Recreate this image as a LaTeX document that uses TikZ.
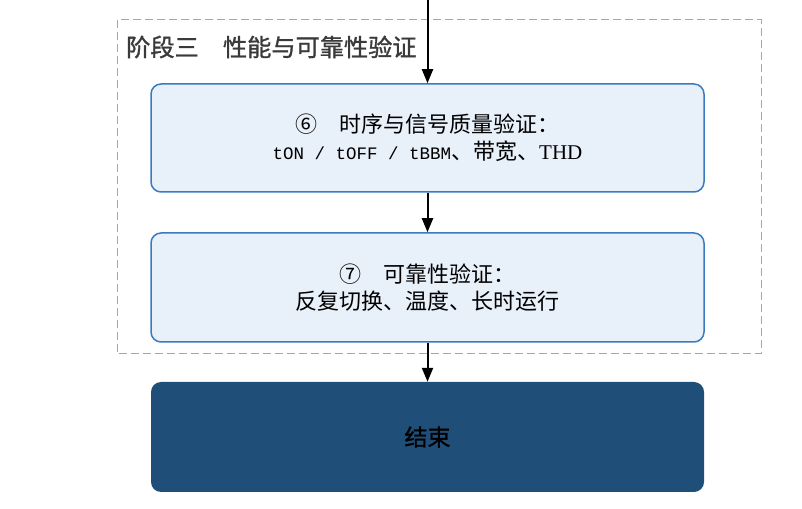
\documentclass[tikz,border=0pt]{standalone}
\usepackage{fontspec}
\setmainfont{Liberation Serif}
\newfontfamily\cjk{Noto Sans CJK SC}
\newfontfamily\cjkheavy{Noto Sans CJK SC}[FakeBold=1.2]
\newfontfamily\mono{Liberation Mono}
\usetikzlibrary{arrows.meta}
\definecolor{boxfill}{HTML}{E8F0FA}
\definecolor{boxline}{HTML}{3A7BBF}
\definecolor{endfill}{HTML}{1F4E79}
\definecolor{framegray}{HTML}{A6A6A6}
\definecolor{titlegray}{HTML}{3A3A3A}
\tikzset{
  stepbox/.style={draw=boxline, line width=1.5pt, fill=boxfill, rounded corners=10pt,
    minimum width=553pt, minimum height=108pt, align=center, inner sep=0pt,
    font=\cjk\fontsize{22}{27}\selectfont, text=black},
  endbox/.style={fill=endfill, rounded corners=10pt, minimum width=553pt, minimum height=110pt,
    inner sep=0pt, font=\cjkheavy\fontsize{23}{27}\selectfont, text=black},
  frame/.style={draw=framegray, dashed, dash pattern=on 8pt off 4pt, line width=1pt},
  flow/.style={draw=black, line width=2pt, -{Triangle[length=14pt,width=11pt]}},
}
\begin{document}
\begin{tikzpicture}[x=1pt,y=1pt]
\useasboundingbox (0,0) rectangle (802,508);
\draw[frame] (117,488) rectangle (761,154);
\node[anchor=west, inner sep=0pt, text=titlegray, font=\cjkheavy\fontsize{24.2}{27}\selectfont] (title) at (126,461) {阶段三　性能与可靠性验证};
\coordinate (top) at (427.5,508);
\node[stepbox] (s6) at (427.5,370) {⑥　时序与信号质量验证：\\{\mono\fontsize{17.5}{27}\selectfont tON / tOFF / tBBM}、带宽、{\rmfamily\fontsize{21}{27}\selectfont THD}};
\node[stepbox, minimum height=109pt] (s7) at (427.5,220.5) {⑦　可靠性验证：\\反复切换、温度、长时运行};
\node[endbox] (end) at (427.5,71) {结束};
\draw[flow] (top) -- (s6.north);
\draw[flow] (s6.south) -- (s7.north);
\draw[flow] (s7.south) -- (end.north);
\end{tikzpicture}
\end{document}
